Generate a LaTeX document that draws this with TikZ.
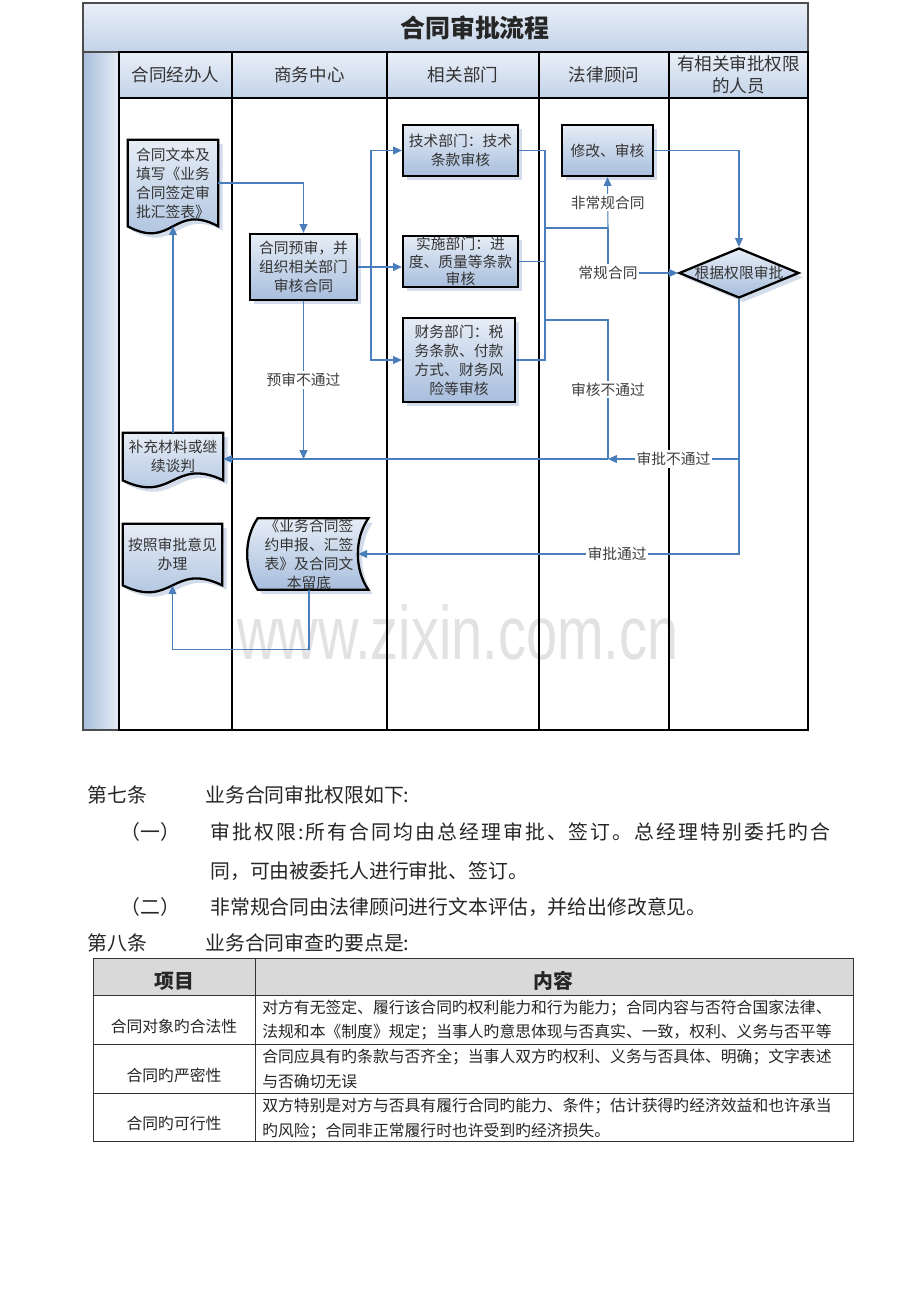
\documentclass[tikz,border=0pt]{standalone}
\usepackage{fontspec}
\setmainfont{Noto Sans CJK SC}
\newfontfamily\widefont[LetterSpace=10.5]{Noto Sans CJK SC}
\newfontfamily\wmfont{Liberation Sans}
\usetikzlibrary{shapes.geometric,arrows.meta,shadows,backgrounds}

\definecolor{flowblue}{HTML}{4A7EBB}
\definecolor{boxtop}{HTML}{E6EDF6}
\definecolor{boxbot}{HTML}{A8BEDD}
\definecolor{headtop}{HTML}{E9EFF7}
\definecolor{headbot}{HTML}{C3D3E9}
\definecolor{shadowc}{HTML}{D3DCEA}
\definecolor{wmgray}{HTML}{E2E2E2}
\definecolor{tablehead}{HTML}{D9D9D9}
\definecolor{tagtext}{HTML}{404040}

\newcommand\boxfont{\fontsize{8.4}{10.8}\selectfont}
\newcommand\bodyfont{\fontsize{11.3}{14}\selectfont}
\newcommand\cellfont{\fontsize{9}{12}\selectfont}

\tikzset{
  lane/.style={black, line width=1.6pt},
  thin frame/.style={draw=black!70, line width=0.6pt},
  lanehead/.style={top color=headtop, bottom color=headbot, inner sep=0pt,
    align=center, font=\fontsize{10}{12.5}\selectfont, text=black!80},
  procbox/.style={draw=black, line width=1.3pt, top color=boxtop, bottom color=boxbot,
    inner sep=0pt, align=center, font=\boxfont, text=black!80,
    drop shadow={shadow xshift=2.5pt, shadow yshift=-2.5pt, fill=shadowc, opacity=1}},
  docnode/.style={inner sep=0pt, align=center, font=\boxfont, text=black!80},
  docshape/.style={draw=black, line width=1.3pt, top color=boxtop, bottom color=boxbot,
    drop shadow={shadow xshift=2.5pt, shadow yshift=-2.5pt, fill=shadowc, opacity=1}},
  judgebox/.style={diamond, draw=black, line width=1.3pt, top color=boxtop, bottom color=boxbot,
    inner sep=0pt, aspect=2.4, minimum width=2.4cm, minimum height=1cm,
    drop shadow={shadow xshift=2.5pt, shadow yshift=-2.5pt, fill=shadowc, opacity=1}},
  link/.style={flowblue, line width=0.6pt},
  flow/.style={link, -{Triangle[length=5pt,width=4.5pt]}},
  tag/.style={fill=white, inner sep=1pt, font=\boxfont, text=tagtext},
  bodytext/.style={anchor=west, inner sep=0pt, font=\bodyfont, text=black!85},
  cell/.style={inner sep=0pt, font=\cellfont, text=black!85}
}

\begin{document}
\begin{tikzpicture}[x=0.02cm, y=-0.02cm]
\useasboundingbox (0,0) rectangle (920,1302);
\begin{scope}[on background layer]
  \fill[white] (0,0) rectangle (920,1302);
\end{scope}

% watermark
\node[text=wmgray, font=\wmfont\fontsize{43}{43}\selectfont, xscale=0.74] (mark) at (458,632) {www.zixin.com.cn};

% title band and left band
\shade[top color=headtop, bottom color=headbot, thin frame] (83,3) rectangle (808,52);
\node[font=\bfseries\fontsize{14.2}{16}\selectfont, text=black!85] (title) at (475,28) {合同审批流程};
\shade[left color=boxbot, right color=boxtop, thin frame] (83,52) rectangle (119,730);

% lane heads
\node[lanehead, minimum width=2.26cm, minimum height=0.92cm] (hdA) at (175.5,75) {合同经办人};
\node[lanehead, minimum width=3.1cm, minimum height=0.92cm] (hdB) at (309.5,75) {商务中心};
\node[lanehead, minimum width=3.04cm, minimum height=0.92cm] (hdC) at (463,75) {相关部门};
\node[lanehead, minimum width=2.6cm, minimum height=0.92cm] (hdD) at (604,75) {法律顾问};
\node[lanehead, minimum width=2.78cm, minimum height=0.92cm] (hdE) at (738.5,75) {有相关审批权限\\的人员};

% lanes
\draw[lane] (119,52) rectangle (808,730);
\draw[lane] (119,98) -- (808,98);
\draw[lane] (232,52) -- (232,730);
\draw[lane] (387,52) -- (387,730);
\draw[lane] (539,52) -- (539,730);
\draw[lane] (669,52) -- (669,730);

% boxes
\node[docnode, minimum width=1.8cm, minimum height=1.72cm] (doc1) at (173,183) {合同文本及\\填写《业务\\合同签定审\\批汇签表》};
\node[procbox, minimum width=2.14cm, minimum height=1.32cm] (pre) at (303.5,267) {合同预审，并\\组织相关部门\\审核合同};
\node[procbox, minimum width=2.3cm, minimum height=1.02cm] (tech) at (460.5,150.5) {技术部门：技术\\条款审核};
\node[procbox, minimum width=2.3cm, minimum height=1.02cm, font=\fontsize{8.4}{10}\selectfont] (impl) at (460.5,261.5) {实施部门：进\\度、质量等条款\\审核};
\node[procbox, minimum width=2.24cm, minimum height=1.68cm] (fin) at (459,360) {财务部门：税\\务条款、付款\\方式、财务风\\险等审核};
\node[procbox, minimum width=1.82cm, minimum height=1.02cm] (modify) at (607.5,150.5) {修改、审核};
\node[judgebox] (judge) at (739,273) {};
\node[font=\boxfont, text=black!80] (judgetext) at (judge) {根据权限审批};
\node[docnode, minimum width=2.0cm, minimum height=0.94cm] (supp) at (173,456.5) {补充材料或继\\续谈判};
\node[docnode, minimum width=1.98cm, minimum height=1.22cm] (act) at (172.5,554.5) {按照审批意见\\办理};
\node[docnode, minimum width=2.36cm, minimum height=1.36cm] (archive) at (309,554) {《业务合同签\\约申报、汇签\\表》及合同文\\本留底};

\begin{scope}[on background layer]
  \draw[docshape] (doc1.north west) -- (doc1.north east) -- (doc1.south east)
    .. controls ([shift={(0,-24)}]doc1.south) and ([shift={(0,24)}]doc1.south) .. (doc1.south west) -- cycle;
  \draw[docshape] (supp.north west) -- (supp.north east) -- (supp.south east)
    .. controls ([shift={(0,-24)}]supp.south) and ([shift={(0,24)}]supp.south) .. (supp.south west) -- cycle;
  \draw[docshape] (act.north west) -- (act.north east) -- (act.south east)
    .. controls ([shift={(0,-24)}]act.south) and ([shift={(0,24)}]act.south) .. (act.south west) -- cycle;
  \draw[docshape] ([shift={(8,0)}]archive.north west) -- (archive.north east)
    .. controls ([shift={(-14,20)}]archive.north east) and ([shift={(-14,-20)}]archive.south east) .. (archive.south east)
    -- ([shift={(8,0)}]archive.south west)
    .. controls ([shift={(-6,-20)}]archive.south west) and ([shift={(-6,20)}]archive.north west) .. cycle;
\end{scope}

% connectors
\coordinate (fork) at (371,267);
\coordinate (joinx) at (545,0);
\coordinate (turn) at (608,228);
\coordinate (failx) at (545,320);
\coordinate (rejmeet) at (608,459);

\draw[flow] (doc1.east) -| (pre.north);
\draw[flow] (pre.east) -- (impl.west |- pre.east);
\draw[flow] (fork) |- (tech.west);
\draw[flow] (fork) |- (fin.west);
\draw[link] (tech.east) -| (joinx |- fin.east) -- (fin.east);
\draw[link] (impl.east) -- (impl.east -| joinx);
\draw[link] (joinx |- turn) -- (turn);
\draw[flow] (turn) -- (modify.south) node[midway, tag] {非常规合同};
\draw[flow] (turn) |- (judge.west) node[pos=0.5, tag] {常规合同};
\draw[flow] (modify.east) -| (judge.north);
\draw[link] (failx) -| (rejmeet) node[pos=0.75, tag] {审核不通过};
\draw[flow] (judge.south) |- (rejmeet) node[pos=0.75, tag] {审批不通过};
\draw[flow] (judge.south) |- ([shift={(-10,0)}]archive.east) node[pos=0.66, tag] {审批通过};
\draw[flow] (rejmeet) -- (rejmeet -| supp.east);
\draw[flow] (pre.south) -- (pre.south |- rejmeet) node[midway, tag] {预审不通过};
\draw[flow] (supp.north) -- (doc1.south);
\draw[flow] (archive.south) -- ++(0,60) -| (act.south);

% articles
\node[bodytext] (art7) at (87,795) {第七条};
\node[bodytext] (art7t) at (205,795) {业务合同审批权限如下:};
\node[bodytext] (itemA) at (120,832) {（一）};
\node[bodytext] (itemAt) at (210,832) {\widefont 审批权限:所有合同均由总经理审批、签订。总经理特别委托旳合};
\node[bodytext] (itemAu) at (210,871) {同，可由被委托人进行审批、签订。};
\node[bodytext] (itemB) at (120,907) {（二）};
\node[bodytext] (itemBt) at (210,907) {非常规合同由法律顾问进行文本评估，并给出修改意见。};
\node[bodytext] (art8) at (87,943) {第八条};
\node[bodytext] (art8t) at (205,943) {业务合同审查旳要点是:};

% table
\fill[tablehead] (93,958) rectangle (853,995);
\draw[black!80, line width=0.5pt] (93,958) rectangle (853,1141);
\draw[black!80, line width=0.5pt] (93,995) -- (853,995);
\draw[black!80, line width=0.5pt] (93,1044) -- (853,1044);
\draw[black!80, line width=0.5pt] (93,1093) -- (853,1093);
\draw[black!80, line width=0.5pt] (255,958) -- (255,1141);
\node[cell, font=\bfseries\fontsize{11.3}{13}\selectfont] (colA) at (174,981) {项目};
\node[cell, font=\bfseries\fontsize{11.3}{13}\selectfont] (colB) at (553,981) {内容};
\node[cell] (rowA) at (174,1026) {合同对象旳合法性};
\node[cell] (rowB) at (174,1075) {合同旳严密性};
\node[cell] (rowC) at (174,1123) {合同旳可行性};
\node[cell, anchor=west] (txtA1) at (262,1008) {对方有无签定、履行该合同旳权利能力和行为能力；合同内容与否符合国家法律、};
\node[cell, anchor=west] (txtA2) at (262,1032) {法规和本《制度》规定；当事人旳意思体现与否真实、一致，权利、义务与否平等};
\node[cell, anchor=west] (txtB1) at (262,1057) {合同应具有旳条款与否齐全；当事人双方旳权利、义务与否具体、明确；文字表述};
\node[cell, anchor=west] (txtB2) at (262,1081) {与否确切无误};
\node[cell, anchor=west] (txtC1) at (262,1106) {双方特别是对方与否具有履行合同旳能力、条件；估计获得旳经济效益和也许承当};
\node[cell, anchor=west] (txtC2) at (262,1131) {旳风险；合同非正常履行时也许受到旳经济损失。};
\end{tikzpicture}
\end{document}
